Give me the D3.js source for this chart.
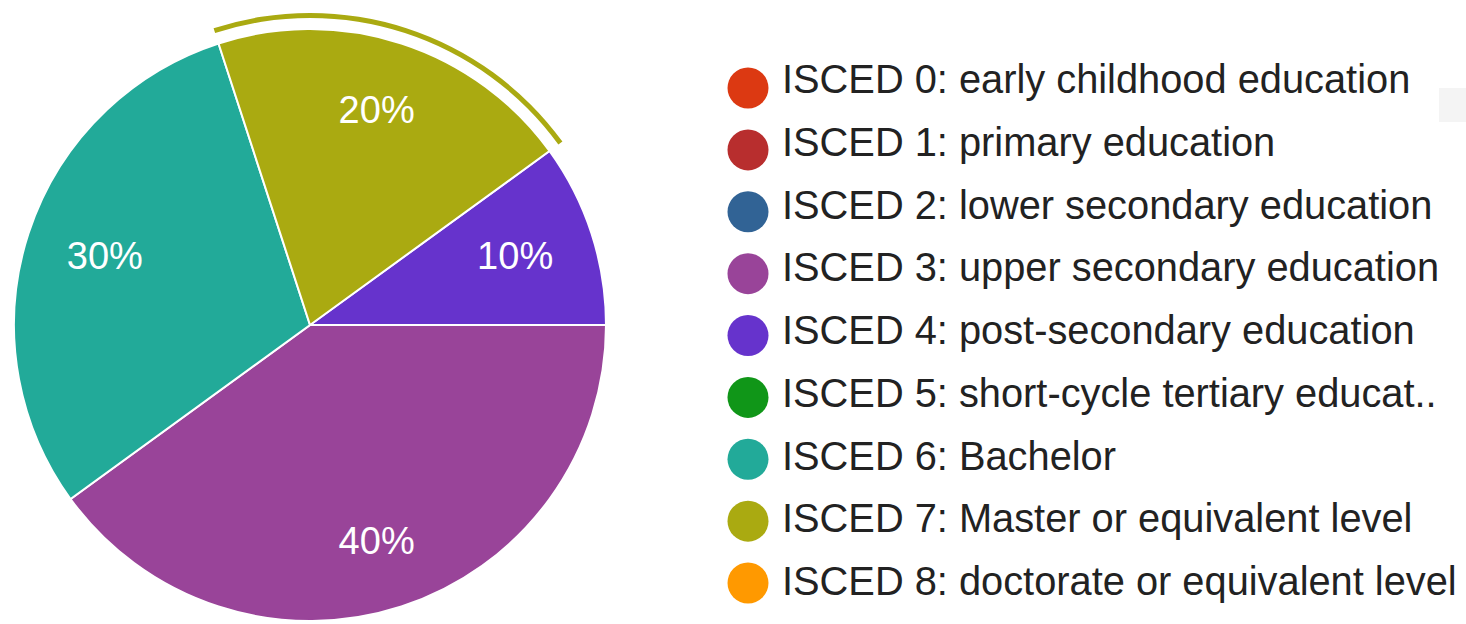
<!DOCTYPE html>
<html>
<head>
<meta charset="utf-8">
<script src="https://cdn.jsdelivr.net/npm/d3@7"></script>
<style>
  body { margin: 0; background: #fff; }
  svg { display: block; font-family: Arial, "Liberation Sans", sans-serif; }
</style>
</head>
<body>
<div id="chart"></div>
<script>
// Data
const categories = [
  'ISCED 0: early childhood education',
  'ISCED 1: primary education',
  'ISCED 2: lower secondary education',
  'ISCED 3: upper secondary education',
  'ISCED 4: post-secondary education',
  'ISCED 5: short-cycle tertiary educat..',
  'ISCED 6: Bachelor',
  'ISCED 7: Master or equivalent level',
  'ISCED 8: doctorate or equivalent level'
];
const shares = [0, 0, 0, 40, 10, 0, 30, 20, 0];
const colors = ['#dc3912', '#b82e2e', '#316395', '#994499', '#6633cc',
                '#109618', '#22aa99', '#aaaa11', '#ff9900'];
const highlighted = 7; // hovered slice, outlined with an outer arc

const svgWidth = 1466, svgHeight = 624;
const cx = 310, cy = 325, radius = 296;

const svg = d3.select('#chart')
  .append('svg')
  .attr('width', svgWidth)
  .attr('height', svgHeight);

const data = categories.map((c, i) => ({ name: c, value: shares[i], color: colors[i], idx: i }));

// google forms sorts slices by size, starting at 3 o'clock
const pie = d3.pie()
  .value(d => d.value)
  .sort((a, b) => b.value - a.value)
  .startAngle(Math.PI / 2)
  .endAngle(Math.PI / 2 + 2 * Math.PI);

const arcs = pie(data).filter(d => d.data.value > 0);

const arc = d3.arc().innerRadius(0).outerRadius(radius);
const labelArc = d3.arc().innerRadius(221).outerRadius(221);
const ringArc = d3.arc().innerRadius(307).outerRadius(312);

const g = svg.append('g').attr('transform', `translate(${cx},${cy})`);

g.selectAll('path.slice')
  .data(arcs)
  .join('path')
  .attr('class', 'slice')
  .attr('d', arc)
  .attr('fill', d => d.data.color)
  .attr('stroke', '#fff')
  .attr('stroke-width', 2);

g.selectAll('path.ring')
  .data(arcs.filter(d => d.data.idx === highlighted))
  .join('path')
  .attr('class', 'ring')
  .attr('d', ringArc)
  .attr('fill', d => d.data.color);

// labels sit slightly further out vertically than horizontally
g.selectAll('text.pct')
  .data(arcs)
  .join('text')
  .attr('class', 'pct')
  .attr('transform', d => {
    const [x, y] = labelArc.centroid(d);
    return `translate(${x * 0.976},${y * 1.025})`;
  })
  .attr('text-anchor', 'middle')
  .attr('dy', '0.36em')
  .attr('fill', '#fff')
  .style('font-size', '38px')
  .text(d => d3.format('.0%')(d.data.value / d3.sum(shares)));

// legend
const yDot = d3.scaleLinear().domain([0, 8]).range([88, 583]);
const yText = d3.scaleLinear().domain([0, 8]).range([93, 595]);

const legend = svg.append('g');
legend.selectAll('circle')
  .data(data)
  .join('circle')
  .attr('cx', 748)
  .attr('cy', d => yDot(d.idx))
  .attr('r', 20.5)
  .attr('fill', d => d.color);

legend.selectAll('text')
  .data(data)
  .join('text')
  .attr('x', 782)
  .attr('y', d => yText(d.idx))
  .attr('fill', '#222')
  .style('font-size', '39.8px')
  .text(d => d.name);

// faint grey patch at the right edge of the screenshot
svg.append('rect')
  .attr('x', 1439).attr('y', 88)
  .attr('width', 27).attr('height', 34)
  .attr('fill', '#f4f4f4');
</script>
</body>
</html>
